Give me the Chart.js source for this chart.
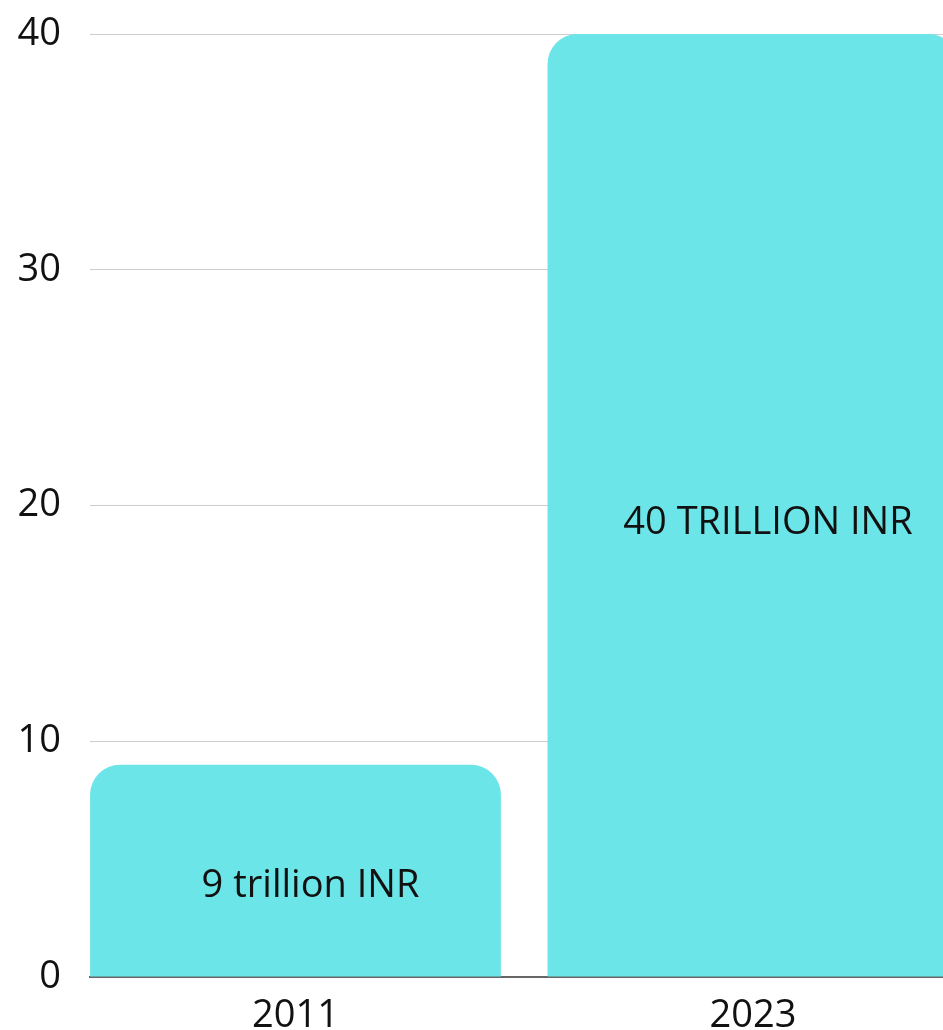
<!DOCTYPE html>
<html lang="en">
<head>
    <meta charset="UTF-8">
    <title>INR Trillion Bars</title>
    <script src="https://cdn.jsdelivr.net/npm/chart.js"></script>
    <style>
        body {
            margin: 0;
            background-color: #ffffff;
            overflow: hidden;
        }

        .chart-box {
            width: 1000px;
            height: 1030px;
        }
    </style>
</head>
<body>
<div class="chart-box">
    <canvas id="inrChart"></canvas>
</div>

<script>
    const years = ['2011', '2023'];
    const values = [9, 40];
    const valueLabels = ['9 trillion INR', '40 TRILLION INR'];
    const yTicks = [0, 10, 20, 30, 40];

    // text inside each bar, a bit right of and below the bar centre
    const barTextPlugin = {
        id: 'barText',
        afterDatasetsDraw(chart, args, opts) {
            const ctx = chart.ctx;
            const meta = chart.getDatasetMeta(0);
            ctx.save();
            ctx.font = opts.font;
            ctx.fillStyle = opts.color;
            ctx.textAlign = 'center';
            ctx.textBaseline = 'middle';
            meta.data.forEach((bar, i) => {
                const mid = (bar.y + bar.base) / 2;
                ctx.fillText(valueLabels[i], bar.x + opts.dx, mid + opts.dy[i]);
            });
            ctx.restore();
        }
    };

    new Chart(document.getElementById('inrChart').getContext('2d'), {
        type: 'bar',
        data: {
            datasets: [{
                data: values.map((v, i) => ({x: i, y: v})),
                backgroundColor: '#6ce5e8',
                borderRadius: {topLeft: 30, topRight: 30},
                borderSkipped: 'bottom',
                barPercentage: 0.898,
                categoryPercentage: 1
            }]
        },
        plugins: [barTextPlugin],
        options: {
            responsive: true,
            maintainAspectRatio: false,
            animation: false,
            layout: {
                padding: {top: 34, right: 0, bottom: 0, left: 0}
            },
            plugins: {
                legend: {display: false},
                tooltip: {enabled: false},
                barText: {
                    font: '38px "Open Sans"',
                    color: '#111111',
                    dx: 15,
                    dy: [16, 18]
                }
            },
            scales: {
                x: {
                    type: 'linear',
                    offset: false,
                    min: -0.4492,
                    max: 1.54,
                    afterBuildTicks: (axis) => {
                        axis.ticks = years.map((_, i) => ({value: i}));
                    },
                    afterFit: (axis) => {
                        axis.height = 53;
                        axis.paddingLeft = 0;
                        axis.paddingRight = 0;
                    },
                    grid: {display: false, offset: false},
                    border: {display: true, color: '#666666', width: 2},
                    ticks: {
                        autoSkip: false,
                        maxRotation: 0,
                        padding: 8,
                        color: '#111111',
                        font: {family: 'Open Sans', size: 38},
                        callback: (value) => years[value]
                    }
                },
                y: {
                    min: 0,
                    max: 40,
                    afterBuildTicks: (axis) => {
                        axis.ticks = yTicks.map(v => ({value: v}));
                    },
                    afterFit: (axis) => {
                        axis.width = 90;
                        axis.paddingTop = 0;
                        axis.paddingBottom = 0;
                    },
                    grid: {color: '#cccccc', lineWidth: 1, drawTicks: false},
                    border: {display: false},
                    ticks: {
                        padding: 29,
                        color: '#111111',
                        font: {family: 'Open Sans', size: 38}
                    }
                }
            }
        }
    });
</script>
</body>
</html>
